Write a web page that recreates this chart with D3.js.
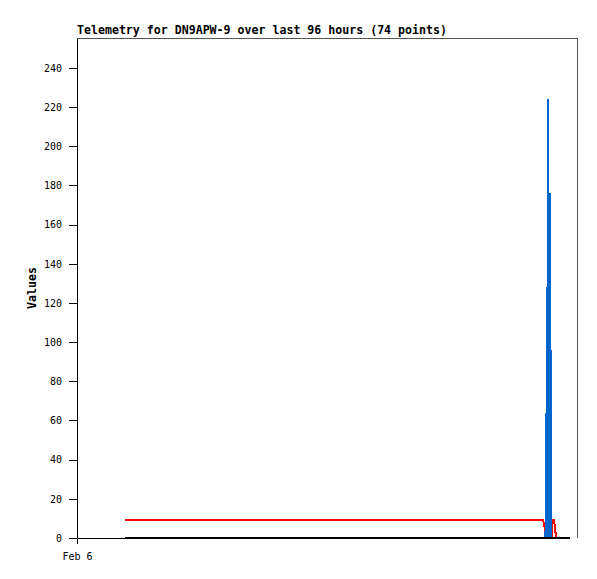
<!DOCTYPE html>
<html lang="en">
<head>
<meta charset="utf-8">
<title>Telemetry for DN9APW-9</title>
<script src="https://cdn.jsdelivr.net/npm/d3@7/dist/d3.min.js"></script>
<style>
  body { margin: 0; background: #fff; }
  .axis text { font: 10px "DejaVu Sans Mono", monospace; fill: #000; }
  .axis line, .axis path { stroke: #000; shape-rendering: crispEdges; }
  .title, .ylabel { font: bold 11.6px "DejaVu Sans Mono", monospace; fill: #000; }
</style>
</head>
<body>
<script>
// hours since Feb 6 00:00, chart covers 96 hours
var start = new Date(2024, 1, 6, 0, 0);
var spanHours = 96;

// red series
var redHours  = [9.2, 89.5, 89.86, 90.05, 91.2, 91.3, 91.6, 91.8, 92.0];
var redValues = [9, 9, 4.5, 0, 0, 9, 9, 4.5, 0];

// blue series (spike)
var blueHours  = [9.2, 89.95, 90.05, 90.14, 90.24, 90.34, 90.5, 90.6, 90.72, 90.82, 90.95, 91.05, 94.7];
var blueValues = [0, 0, 64, 0, 128, 0, 224, 48, 176, 0, 96, 0, 0];

// black series
var blackHours  = [9.2, 94.7];
var blackValues = [0, 0];

var yTicks = [0, 20, 40, 60, 80, 100, 120, 140, 160, 180, 200, 220, 240];

var width = 597, height = 579;
var margin = {top: 38, right: 20, bottom: 41, left: 77};
var w = width - margin.left - margin.right,
    h = height - margin.top - margin.bottom;

function toDate(hr) { return new Date(start.getTime() + hr * 3600000); }

var x = d3.scaleTime()
  .domain([start, toDate(spanHours)])
  .range([0, w]);

var y = d3.scaleLinear()
  .domain([0, 255.3])
  .range([h, 0]);

var svg = d3.select("body").append("svg")
  .attr("width", width)
  .attr("height", height);

var g = svg.append("g")
  .attr("transform", "translate(" + margin.left + "," + margin.top + ")");

// frame (top + right grey)
g.append("path")
  .attr("d", "M0,0.5H" + (w + 0.5) + "V" + h)
  .attr("fill", "none")
  .attr("stroke", "#555")
  .attr("stroke-width", 1)
  .attr("shape-rendering", "crispEdges");

// x axis
var xAxis = g.append("g")
  .attr("class", "axis")
  .attr("transform", "translate(0," + h + ")")
  .call(d3.axisBottom(x)
    .tickValues([start])
    .tickFormat(d3.timeFormat("%b %-d"))
    .tickSize(6)
    .tickSizeOuter(0)
    .tickPadding(9));
xAxis.select(".domain").remove();
g.append("line")
  .attr("x1", 0).attr("x2", x(toDate(94.7)))
  .attr("y1", h + 0.5).attr("y2", h + 0.5)
  .attr("stroke", "#000")
  .attr("shape-rendering", "crispEdges");

// y axis
g.append("g")
  .attr("class", "axis")
  .call(d3.axisLeft(y)
    .tickValues(yTicks)
    .tickSize(8)
    .tickSizeOuter(0)
    .tickPadding(7));

// title
svg.append("text")
  .attr("class", "title")
  .attr("x", margin.left)
  .attr("y", margin.top - 4)
  .text("Telemetry for DN9APW-9 over last 96 hours (74 points)");

// y label
svg.append("text")
  .attr("class", "ylabel")
  .attr("transform", "translate(" + 36 + "," + (margin.top + h / 2) + ") rotate(-90)")
  .attr("text-anchor", "middle")
  .text("Values");

var line = d3.line()
  .x(function(d) { return x(toDate(d[0])); })
  .y(function(d) { return y(d[1]); });

function drawSeries(hours, values, color) {
  var pts = hours.map(function(hr, i) { return [hr, values[i]]; });
  g.append("path")
    .datum(pts)
    .attr("fill", "none")
    .attr("stroke", color)
    .attr("stroke-width", 2)
    .attr("shape-rendering", "crispEdges")
    .attr("d", line);
}

drawSeries(redHours, redValues, "#ff0000");
drawSeries(blueHours, blueValues, "#0066cc");
drawSeries(blackHours, blackValues, "#000000");
</script>
</body>
</html>
